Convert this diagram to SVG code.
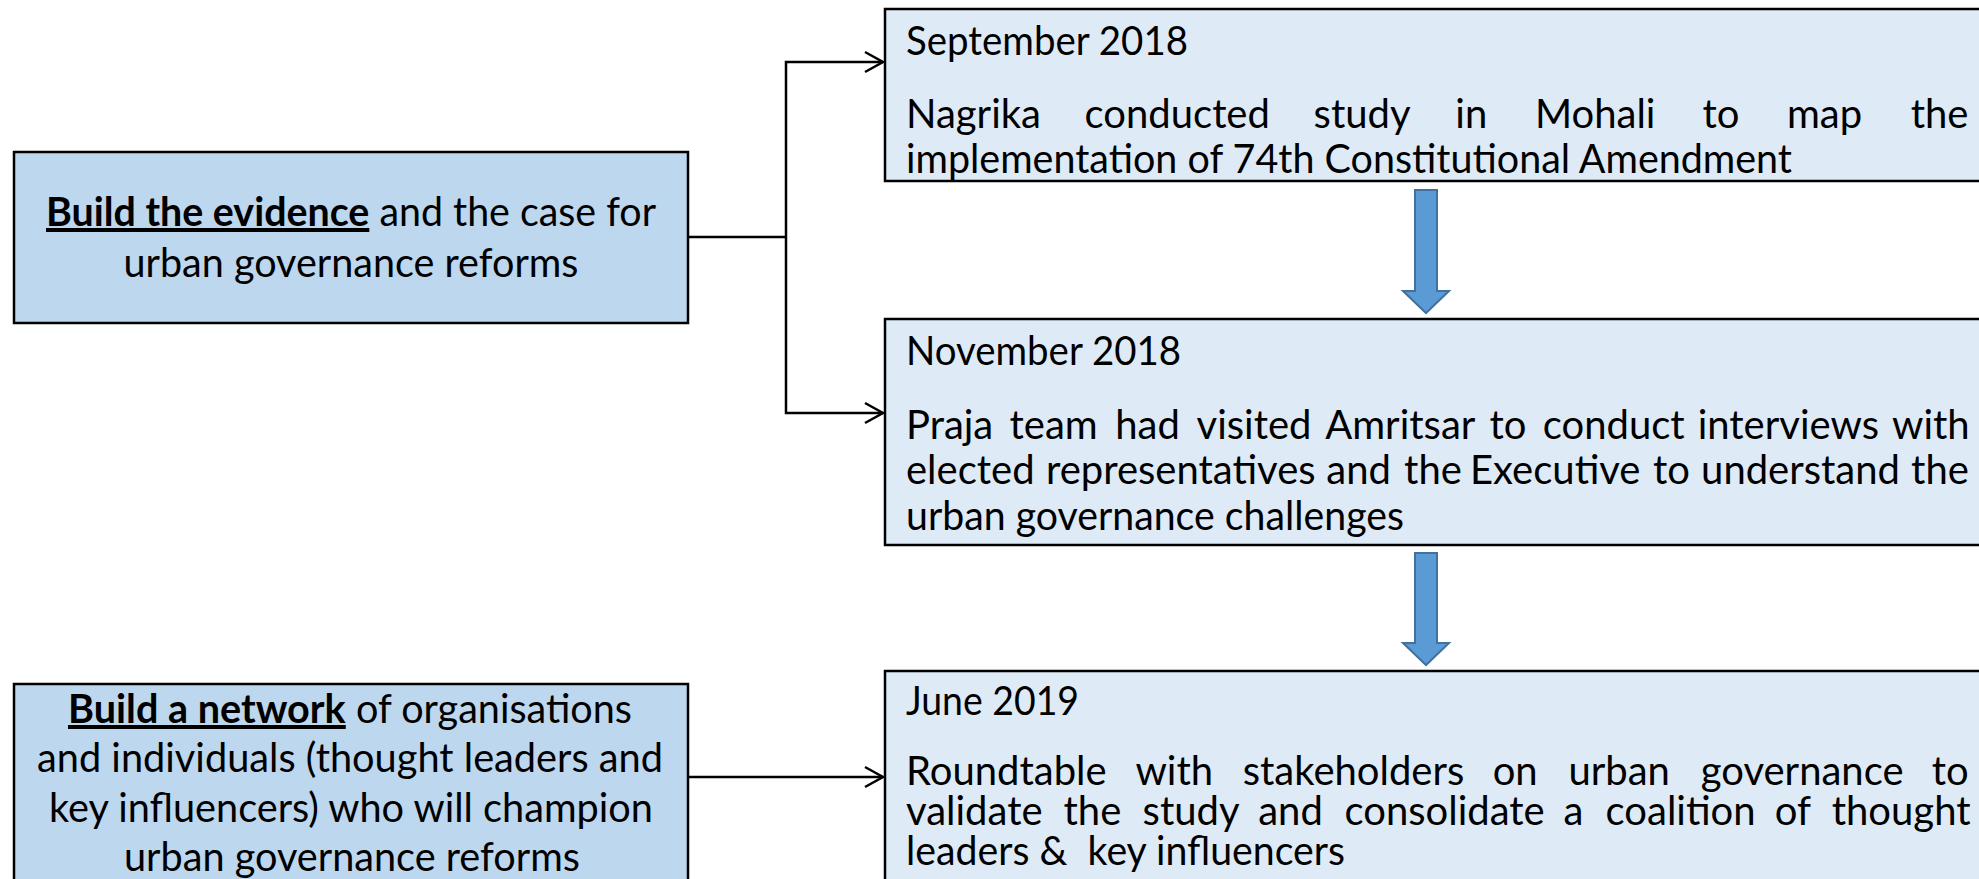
<svg xmlns="http://www.w3.org/2000/svg" width="1979" height="879" viewBox="0 0 1979 879">
<style>
.lbox{fill:#BDD7EE;stroke:#000;stroke-width:2.5}
.rbox{fill:#DEEAF6;stroke:#000;stroke-width:2.5}
.t{font-family:Lato,"Liberation Sans",sans-serif;font-size:40px;fill:#000}
.b{font-weight:bold;text-decoration:underline}
.con{fill:none;stroke:#000;stroke-width:2.5}
.blk{fill:#5B9BD5;stroke:#41719C;stroke-width:2}
</style>
<defs>
<marker id="open" markerUnits="userSpaceOnUse" markerWidth="24" markerHeight="24" viewBox="-20 -12 24 24" refX="0" refY="0" orient="auto">
<path d="M-18,-10 L0,0 L-18,10" fill="none" stroke="#000" stroke-width="2.5"/>
</marker>
</defs>
<rect width="1979" height="879" fill="#fff"/>

<g id="connectors">
<path class="con" d="M688,237 H786"/>
<path class="con" d="M786,237 V62 H883" marker-end="url(#open)"/>
<path class="con" d="M786,237 V413 H883" marker-end="url(#open)"/>
<path class="con" d="M688,777 H883" marker-end="url(#open)"/>
<polygon class="blk" points="1415,190 1437,190 1437,291 1449,291 1426,313 1403,291 1415,291"/>
<polygon class="blk" points="1415,553 1437,553 1437,643 1449,643 1426,665 1403,643 1415,643"/>
</g>

<g id="evidence">
<rect class="lbox" x="14" y="152" width="674" height="171"/>
<text class="t" x="351" y="226" text-anchor="middle" textLength="610" lengthAdjust="spacingAndGlyphs"><tspan class="b">Build the evidence</tspan> and the case for</text>
<text class="t" x="351" y="277" text-anchor="middle" textLength="455" lengthAdjust="spacingAndGlyphs">urban governance reforms</text>
</g>

<g id="network">
<rect class="lbox" x="14" y="684" width="674" height="300"/>
<text class="t" x="350" y="723" text-anchor="middle" textLength="564" lengthAdjust="spacingAndGlyphs"><tspan class="b">Build a network</tspan> of organisations</text>
<text class="t" x="350" y="772" text-anchor="middle" textLength="626" lengthAdjust="spacingAndGlyphs">and individuals (thought leaders and</text>
<text class="t" x="351" y="822" text-anchor="middle" textLength="604" lengthAdjust="spacingAndGlyphs">key influencers) who will champion</text>
<text class="t" x="352" y="871" text-anchor="middle" textLength="456" lengthAdjust="spacingAndGlyphs">urban governance reforms</text>
</g>

<g id="sep2018">
<rect class="rbox" x="885" y="9" width="1200" height="172"/>
<text class="t" x="906" y="55" textLength="282" lengthAdjust="spacingAndGlyphs">September 2018</text>
<text class="t" y="128"><tspan x="906">Nagrika</tspan><tspan x="1084.6">conducted</tspan><tspan x="1313.6">study</tspan><tspan x="1455.3">in</tspan><tspan x="1535">Mohali</tspan><tspan x="1702.6">to</tspan><tspan x="1786.9">map</tspan><tspan x="1910.7">the</tspan></text>
<text class="t" x="906" y="173" textLength="886" lengthAdjust="spacingAndGlyphs">implementation of 74th Constitutional Amendment</text>
</g>

<g id="nov2018">
<rect class="rbox" x="885" y="319" width="1200" height="226"/>
<text class="t" x="906" y="365" textLength="275" lengthAdjust="spacingAndGlyphs">November 2018</text>
<text class="t" y="439"><tspan x="906">Praja</tspan><tspan x="1009.6">team</tspan><tspan x="1115.3">had</tspan><tspan x="1196.5">visited</tspan><tspan x="1325.2">Amritsar</tspan><tspan x="1489.6">to</tspan><tspan x="1542.8">conduct</tspan><tspan x="1697.7">interviews</tspan><tspan x="1892">with</tspan></text>
<text class="t" y="484"><tspan x="906">elected</tspan><tspan x="1045.9">representatives</tspan><tspan x="1326.3">and</tspan><tspan x="1404.1">the</tspan><tspan x="1470">Executive</tspan><tspan x="1653">to</tspan><tspan x="1701.1">understand</tspan><tspan x="1911.1">the</tspan></text>
<text class="t" x="906" y="530" textLength="498" lengthAdjust="spacingAndGlyphs">urban governance challenges</text>
</g>

<g id="jun2019">
<rect class="rbox" x="885" y="671" width="1200" height="300"/>
<text class="t" x="906" y="715" textLength="173" lengthAdjust="spacingAndGlyphs">June 2019</text>
<text class="t" y="785"><tspan x="906">Roundtable</tspan><tspan x="1135.4">with</tspan><tspan x="1242.7">stakeholders</tspan><tspan x="1492.7">on</tspan><tspan x="1568.4">urban</tspan><tspan x="1700.8">governance</tspan><tspan x="1931.7">to</tspan></text>
<text class="t" y="825"><tspan x="906">validate</tspan><tspan x="1063.5">the</tspan><tspan x="1142.6">study</tspan><tspan x="1258.2">and</tspan><tspan x="1344.5">consolidate</tspan><tspan x="1563.4">a</tspan><tspan x="1605.6">coalition</tspan><tspan x="1774.7">of</tspan><tspan x="1831.7">thought</tspan></text>
<text class="t" x="906" y="865" textLength="439" lengthAdjust="spacingAndGlyphs" style="white-space:pre">leaders &amp;  key influencers</text>
</g>
</svg>
